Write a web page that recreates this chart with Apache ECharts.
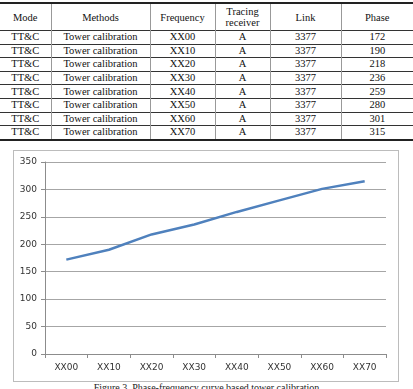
<!DOCTYPE html>
<html>
<head>
<meta charset="utf-8">
<script src="https://cdn.jsdelivr.net/npm/echarts@6/dist/echarts.min.js"></script>
<style>
  html, body { margin: 0; padding: 0; background: #fff; }
  body { width: 413px; height: 389px; position: relative; overflow: hidden; }
  #tbl {
    position: absolute; left: 0; top: 2px; width: 413px;
    border-collapse: collapse; table-layout: fixed;
    font-family: "Times New Roman", "Liberation Serif", "DejaVu Serif", Times, serif;
    font-size: 10.5px; color: #111;
    border-top: 2px solid #222; border-bottom: 2px solid #222;
  }
  #tbl td, #tbl th {
    font-weight: normal; text-align: center; padding: 0;
    border-left: 1px solid #999; border-top: 1px solid #333;
    height: 12.6px; line-height: 12px; white-space: nowrap;
  }
  #tbl th { height: 26px; line-height: 11px; border-top: none; }
  #tbl tr > *:first-child { border-left: none; }
  .frame {
    position: absolute; left: 13px; top: 150px; width: 386px; height: 232px;
    box-sizing: border-box; border: 1px solid #bcbcbc;
  }
  #chart { width: 384px; height: 230px; }
  .caption {
    position: absolute; left: 0; width: 413px; top: 382px; text-align: center;
    font-family: "Times New Roman", "Liberation Serif", "DejaVu Serif", serif;
    font-size: 10px; color: #222;
  }
</style>
</head>
<body>
<table id="tbl">
  <colgroup>
    <col style="width:51px"><col style="width:99px"><col style="width:65px">
    <col style="width:55px"><col style="width:71px"><col style="width:72px">
  </colgroup>
  <thead><tr id="head"></tr></thead>
  <tbody id="body"></tbody>
</table>
<div class="frame"><div id="chart"></div></div>
<div class="caption">Figure 3. Phase-frequency curve based tower calibration</div>

<script>
const headers = ['Mode', 'Methods', 'Frequency', 'Tracing<br>receiver', 'Link', 'Phase'];
const frequencies = ['XX00', 'XX10', 'XX20', 'XX30', 'XX40', 'XX50', 'XX60', 'XX70'];
const phases = [172, 190, 218, 236, 259, 280, 301, 315];
const mode = 'TT&amp;C';
const method = 'Tower calibration';
const receiver = 'A';
const link = 3377;

// table
document.getElementById('head').innerHTML = headers.map(h => '<th>' + h + '</th>').join('');
document.getElementById('body').innerHTML = frequencies.map((f, i) =>
  '<tr><td>' + mode + '</td><td>' + method + '</td><td>' + f + '</td><td>' + receiver +
  '</td><td>' + link + '</td><td>' + phases[i] + '</td></tr>'
).join('');

// chart
const chart = echarts.init(document.getElementById('chart'));
const labelFont = { fontFamily: 'DejaVu Sans', fontSize: 9, color: '#333' };

chart.setOption({
  animation: false,
  grid: { left: 31, right: 12, top: 11, bottom: 27 },
  xAxis: {
    type: 'category',
    data: frequencies,
    boundaryGap: true,
    axisLine: { lineStyle: { color: '#8c8c8c', width: 1 } },
    axisTick: { show: true, length: 4, lineStyle: { color: '#8c8c8c' } },
    axisLabel: Object.assign({ margin: 9 }, labelFont)
  },
  yAxis: {
    type: 'value',
    min: 0,
    max: 350,
    interval: 50,
    axisLine: { show: true, lineStyle: { color: '#8c8c8c', width: 1 } },
    axisTick: { show: true, length: 4, lineStyle: { color: '#8c8c8c' } },
    axisLabel: Object.assign({ margin: 8 }, labelFont),
    splitLine: { lineStyle: { color: '#a6a6a6', width: 1 } }
  },
  series: [{
    type: 'line',
    data: phases,
    symbol: 'none',
    lineStyle: { color: '#4f81bd', width: 2.5 }
  }]
});
</script>
</body>
</html>
